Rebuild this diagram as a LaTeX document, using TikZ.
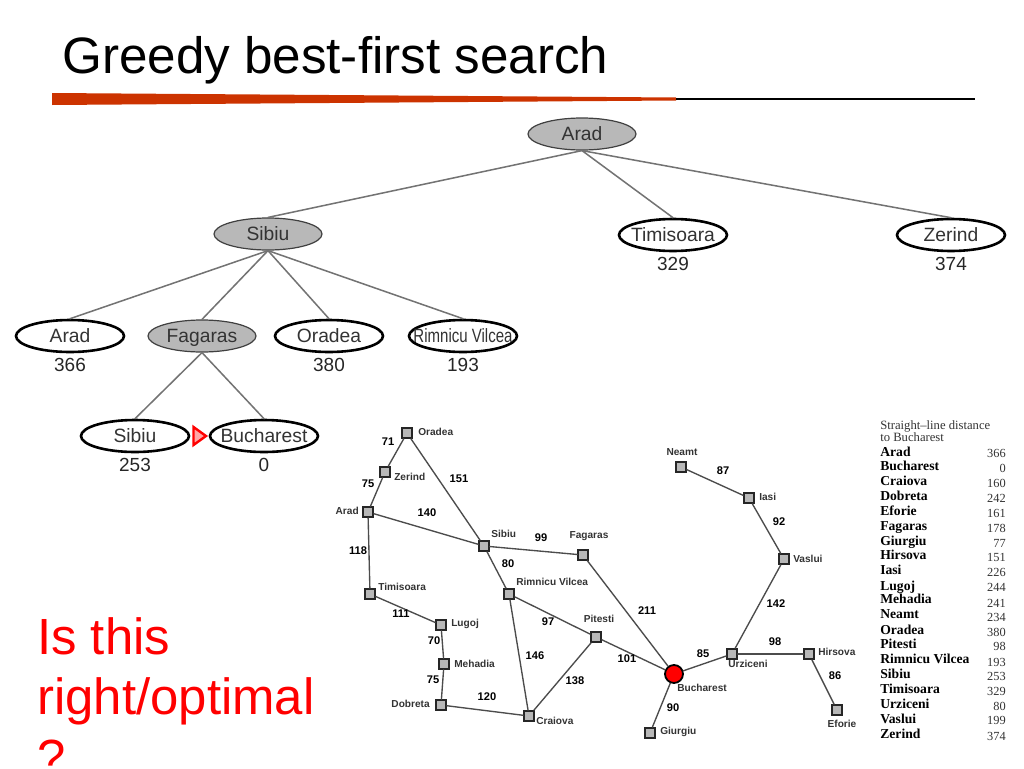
\documentclass[tikz,border=0pt]{standalone}
\usepackage{fontspec}
\setmainfont{Liberation Sans}
\newfontfamily\tablefont[Ligatures = TeX]{Liberation Serif}
\usetikzlibrary{shapes.geometric}

\definecolor{barred}{HTML}{CC3300}
\definecolor{expanded}{HTML}{B8B8B8}

\newcommand{\pxfont}[1]{\fontsize{#1}{#1}\selectfont}
\newcommand{\tname}[1]{\makebox[0pt]{#1}}

\begin{document}
\begin{tikzpicture}[%
        x = 0.25mm,
        y = -0.25mm,
        line cap = round,
        closednode/.style = {%
            ellipse,
            draw = black!75,
            fill = expanded,
            line width = 0.3mm,
            inner sep = 0pt,
            minimum width = 27mm,
            minimum height = 8mm,
            text height = 9.9pt,
            text depth = 0pt,
            text = black!80,
            font = \pxfont{13.7pt}
        },
        opennode/.style = {%
            closednode,
            draw = black,
            fill = white,
            line width = 0.65mm
        },
        hvalue/.style = {%
            text = black!85,
            inner sep = 0pt,
            font = \pxfont{13.5pt}
        },
        treeedge/.style = {%
            draw = black!55,
            line width = 0.38mm
        },
        city/.style = {%
            rectangle,
            draw = black!85,
            fill = expanded,
            line width = 0.45mm,
            inner sep = 0pt,
            minimum size = 2.5mm
        },
        cityname/.style = {%
            inner sep = 0pt,
            text = black!80,
            font = \pxfont{7.2pt}\bfseries
        },
        road/.style = {%
            draw = black!70,
            line width = 0.34mm
        },
        dist/.style = {%
            inner sep = 0pt,
            font = \pxfont{7.9pt}\bfseries
        },
        tablename/.style = {%
            anchor = base west,
            inner sep = 0pt,
            font = \tablefont\pxfont{9.7pt}\bfseries
        },
        tablevalue/.style = {%
            anchor = base east,
            inner sep = 0pt,
            text = black!80,
            font = \tablefont\pxfont{8.8pt}
        }
    ]

        \useasboundingbox (0, 0) rectangle (1024, 768);

        % Title and the bar under it.
        \node[anchor = base west, inner sep = 0pt, font = \pxfont{36.4pt}] (title) at (62, 73) {Greedy best-first search};
        \fill[barred] (52, 93) -- (676, 97.5) -- (676, 100.5) -- (52, 105) -- cycle;
        \draw[line width = 0.6mm, line cap = butt] (676, 99) -- (975, 99);

        % Search tree.
        \node[closednode] (tarad) at (582, 134) {\tname{Arad}};
        \node[closednode] (tsibiu) at (268, 234) {\tname{Sibiu}};
        \node[opennode] (ttimisoara) at (673, 235) {\tname{Timisoara}};
        \node[opennode] (tzerind) at (951, 235) {\tname{Zerind}};
        \node[opennode] (tarad2) at (70, 336) {\tname{Arad}};
        \node[closednode] (tfagaras) at (202, 336) {\tname{Fagaras}};
        \node[opennode] (toradea) at (329, 336) {\tname{Oradea}};
        \node[opennode] (trimnicu) at (463, 336) {\tname{\scalebox{0.78}[1]{Rimnicu Vilcea}}};
        \node[opennode] (tsibiu2) at (135, 436) {\tname{Sibiu}};
        \node[opennode] (tbucharest) at (264, 436) {\tname{Bucharest}};

        \draw[treeedge] (tarad.south) -- (tsibiu.north);
        \draw[treeedge] (tarad.south) -- (ttimisoara.north);
        \draw[treeedge] (tarad.south) -- (tzerind.north);
        \draw[treeedge] (tsibiu.south) -- (tarad2.north);
        \draw[treeedge] (tsibiu.south) -- (tfagaras.north);
        \draw[treeedge] (tsibiu.south) -- (toradea.north);
        \draw[treeedge] (tsibiu.south) -- (trimnicu.north);
        \draw[treeedge] (tfagaras.south) -- (tsibiu2.north);
        \draw[treeedge] (tfagaras.south) -- (tbucharest.north);

        % Heuristic values under the open nodes.
        \node[hvalue] (vtimisoara) at (673, 264) {329};
        \node[hvalue] (vzerind) at (951, 264) {374};
        \node[hvalue] (varad) at (70, 365) {366};
        \node[hvalue] (voradea) at (329, 365) {380};
        \node[hvalue] (vrimnicu) at (463, 365) {193};
        \node[hvalue] (vsibiu) at (135, 465) {253};
        \node[hvalue] (vbucharest) at (264, 465) {0};

        % Red marker between the two last nodes.
        \draw[draw = red, fill = red!35, line width = 0.6mm, line join = miter] (193.5, 427) -- (206, 436) -- (193.5, 445) -- cycle;

        % Road map.
        \node[city] (oradea) at (407, 433) {};
        \node[city] (zerind) at (385, 472) {};
        \node[city] (arad) at (368, 512) {};
        \node[city] (sibiu) at (484, 546) {};
        \node[city] (fagaras) at (583, 555) {};
        \node[city] (rimnicu) at (509, 594) {};
        \node[city] (timisoara) at (370, 594) {};
        \node[city] (lugoj) at (441, 625) {};
        \node[city] (mehadia) at (444, 664) {};
        \node[city] (dobreta) at (441, 705) {};
        \node[city] (craiova) at (529, 716) {};
        \node[city] (pitesti) at (596, 637) {};
        \node[city] (neamt) at (681, 467) {};
        \node[city] (iasi) at (749, 498) {};
        \node[city] (vaslui) at (784, 559) {};
        \node[city] (urziceni) at (732, 654) {};
        \node[city] (hirsova) at (809, 654) {};
        \node[city] (eforie) at (837, 710) {};
        \node[city] (giurgiu) at (650, 733) {};
        \node[circle, draw = black, fill = red, line width = 0.45mm, inner sep = 0pt, minimum size = 4.5mm] (bucharest) at (674, 674) {};

        \draw[road] (oradea) -- (zerind);
        \draw[road] (zerind) -- (arad);
        \draw[road] (oradea) -- (sibiu);
        \draw[road] (arad) -- (sibiu);
        \draw[road] (arad) -- (timisoara);
        \draw[road] (timisoara) -- (lugoj);
        \draw[road] (lugoj) -- (mehadia);
        \draw[road] (mehadia) -- (dobreta);
        \draw[road] (dobreta) -- (craiova);
        \draw[road] (sibiu) -- (fagaras);
        \draw[road] (sibiu) -- (rimnicu);
        \draw[road] (rimnicu) -- (pitesti);
        \draw[road] (rimnicu) -- (craiova);
        \draw[road] (craiova) -- (pitesti);
        \draw[road] (pitesti) -- (bucharest);
        \draw[road] (fagaras) -- (bucharest);
        \draw[road] (bucharest) -- (urziceni);
        \draw[road] (bucharest) -- (giurgiu);
        \draw[road] (urziceni) -- (vaslui);
        \draw[road] (urziceni) -- (hirsova);
        \draw[road] (hirsova) -- (eforie);
        \draw[road] (vaslui) -- (iasi);
        \draw[road] (iasi) -- (neamt);

        % City names.
        \node[cityname, anchor = west] (noradea) at (418, 432) {Oradea};
        \node[cityname, anchor = west] (nzerind) at (394, 477) {Zerind};
        \node[cityname, anchor = east] (narad) at (359, 511) {Arad};
        \node[cityname, anchor = west] (ntimisoara) at (378, 587) {Timisoara};
        \node[cityname, anchor = west] (nlugoj) at (451, 624) {Lugoj};
        \node[cityname, anchor = west] (nmehadia) at (454, 664) {Mehadia};
        \node[cityname, anchor = east] (ndobreta) at (430, 704) {Dobreta};
        \node[cityname, anchor = west] (ncraiova) at (536, 721) {Craiova};
        \node[cityname] (npitesti) at (599, 619) {Pitesti};
        \node[cityname, anchor = west] (nrimnicu) at (516, 582) {Rimnicu Vilcea};
        \node[cityname, anchor = west] (nsibiu) at (491, 534) {Sibiu};
        \node[cityname] (nfagaras) at (589, 536) {Fagaras};
        \node[cityname] (nneamt) at (682, 452) {Neamt};
        \node[cityname, anchor = west] (niasi) at (759, 497) {Iasi};
        \node[cityname, anchor = west] (nvaslui) at (793, 559) {Vaslui};
        \node[cityname, anchor = west] (nurziceni) at (728, 664) {Urziceni};
        \node[cityname, anchor = west] (nhirsova) at (818, 652) {Hirsova};
        \node[cityname] (neforie) at (842, 724) {Eforie};
        \node[cityname, anchor = west] (nbucharest) at (677, 688) {Bucharest};
        \node[cityname, anchor = west] (ngiurgiu) at (660, 732) {Giurgiu};

        % Road lengths.
        \node[dist] at (388, 442) {71};
        \node[dist] at (368, 484) {75};
        \node[dist] at (459, 479) {151};
        \node[dist] at (427, 513) {140};
        \node[dist] at (358, 551) {118};
        \node[dist] at (541, 538) {99};
        \node[dist] at (508, 564) {80};
        \node[dist] at (401, 614) {111};
        \node[dist] at (548, 622) {97};
        \node[dist] at (434, 641) {70};
        \node[dist] at (535, 656) {146};
        \node[dist] at (433, 680) {75};
        \node[dist] at (575, 681) {138};
        \node[dist] at (487, 697) {120};
        \node[dist] at (627, 659) {101};
        \node[dist] at (647, 611) {211};
        \node[dist] at (723, 471) {87};
        \node[dist] at (779, 522) {92};
        \node[dist] at (776, 604) {142};
        \node[dist] at (703, 654) {85};
        \node[dist] at (775, 642) {98};
        \node[dist] at (835, 676) {86};
        \node[dist] at (673, 708) {90};

        % Table of straight-line distances.
        \node[anchor = base west, inner sep = 0pt, text = black!80, font = \tablefont\pxfont{9pt}] (thead) at (880, 429) {Straight--line distance};
        \node[anchor = base west, inner sep = 0pt, text = black!80, font = \tablefont\pxfont{9pt}] (thead2) at (880, 441) {to Bucharest};
        \foreach \name/\ny/\val/\vy in {%
            Arad/456/366/457, Bucharest/470/0/472, Craiova/485/160/487,
            Dobreta/500/242/502, Eforie/515/161/517, Fagaras/530/178/532,
            Giurgiu/545/77/547, Hirsova/559/151/561, Iasi/574/226/576,
            Lugoj/590/244/591, Mehadia/603/241/607, Neamt/618/234/621,
            Oradea/634/380/636, Pitesti/648/98/650, Rimnicu Vilcea/663/193/666,
            Sibiu/678/253/680, Timisoara/693/329/695, Urziceni/708/80/710,
            Vaslui/723/199/724, Zerind/738/374/740} {
            \node[tablename] at (880, \ny) {\name};
            \node[tablevalue] at (1006, \vy) {\val};
        }

        % Question in red.
        \node[anchor = north west, inner sep = 0pt, align = left, text = red, font = \fontsize{36.2pt}{43pt}\selectfont] (question) at (37, 617) {Is this\\right/optimal\\?};
    \end{tikzpicture}
\end{document}
